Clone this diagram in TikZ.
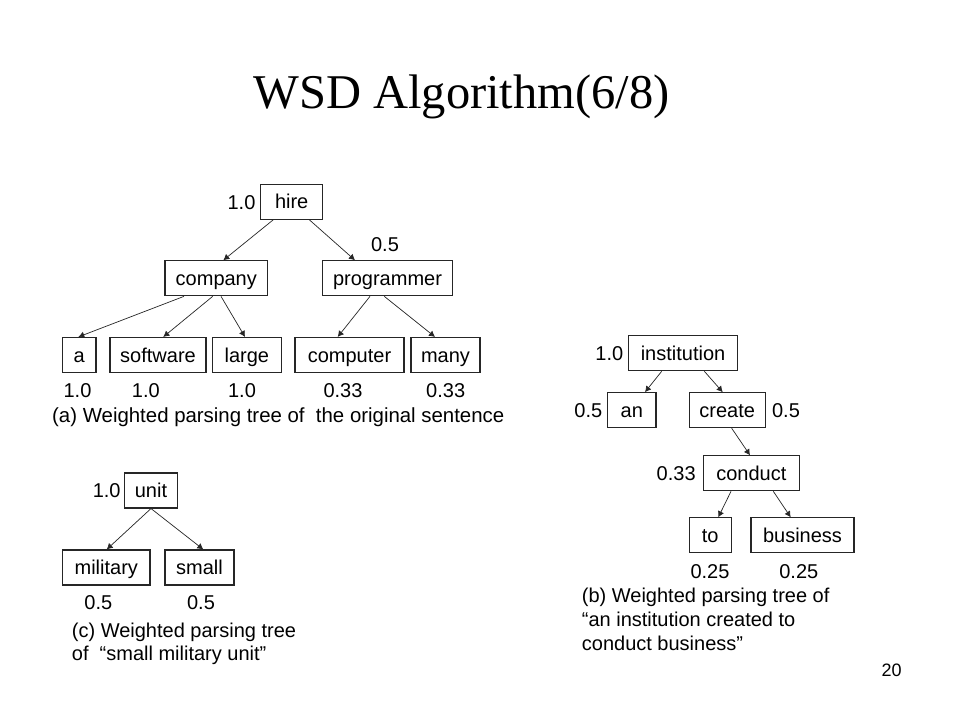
\documentclass[tikz,border=0pt]{standalone}
\usepackage{fontspec}
\setmainfont{Liberation Sans}
\newfontfamily\titlefont{Liberation Serif}
\usetikzlibrary{arrows.meta}
\begin{document}
\begin{tikzpicture}[x=1pt,y=-1pt,
  wbox/.style={draw=black!85, line width=1.1pt, inner sep=0pt, minimum height=35pt,
    text height=14.4pt, text depth=0pt, font=\fontsize{20}{24}\selectfont},
  wlab/.style={inner sep=0pt, text height=14.4pt, text depth=0pt, font=\fontsize{20}{24}\selectfont},
  captext/.style={inner sep=0pt, anchor=base west, align=left, font=\fontsize{20}{24}\selectfont},
  arr/.style={-{Latex[length=6pt,width=6.5pt]}, line width=0.7pt, black!85}]
\useasboundingbox (0,0) rectangle (960,720);
\fill[white] (0,0) rectangle (960,720);
% title
\node[inner sep=0pt, anchor=base, font=\titlefont\fontsize{48.5}{56}\selectfont] (title) at (461.5,108) {WSD Algorithm(6/8)};
% tree (a)
\node[wbox, minimum width=62pt] (hire) at (291.7,201.7) {hire};
\node[wbox, minimum width=102.7pt] (company) at (216.3,278.3) {company};
\node[wbox, minimum width=129.7pt] (programmer) at (387.5,278.3) {programmer};
\node[wbox, minimum width=33.3pt] (a) at (79.3,355) {a};
\node[wbox, minimum width=96pt] (software) at (158,355) {software};
\node[wbox, minimum width=69pt] (large) at (246.8,355) {large};
\node[wbox, minimum width=109pt] (computer) at (349.5,355) {computer};
\node[wbox, minimum width=69pt] (many) at (445.5,355) {many};
\node[wlab] (whire) at (241.5,202) {1.0};
\node[wlab] (wprog) at (385,244) {0.5};
\node[wlab] (wa) at (77.5,390) {1.0};
\node[wlab] (wsoft) at (145.8,390) {1.0};
\node[wlab] (wlarge) at (242,390) {1.0};
\node[wlab] (wcomp) at (343,390) {0.33};
\node[wlab] (wmany) at (445.7,390) {0.33};
\node[captext, font=\fontsize{20.4}{24}\selectfont] (capa) at (52,422) {(a) Weighted parsing tree of\ \ the original sentence};
\draw[arr] ([xshift=-18.4pt]hire.south) -- ([xshift=7pt]company.north);
\draw[arr] ([xshift=17.6pt]hire.south) -- ([xshift=-32.5pt]programmer.north);
\draw[arr] ([xshift=-32.3pt]company.south) -- ([xshift=-1pt]a.north);
\draw[arr] ([xshift=-3.6pt]company.south) -- ([xshift=5.3pt]software.north);
\draw[arr] ([xshift=4.7pt]company.south) -- ([xshift=-1.8pt]large.north);
\draw[arr] ([xshift=-17.5pt]programmer.south) -- ([xshift=-11.8pt]computer.north);
\draw[arr] ([xshift=-3.2pt]programmer.south) -- ([xshift=-10.5pt]many.north);
% tree (b)
\node[wbox, minimum width=109.3pt] (institution) at (683,353.2) {institution};
\node[wbox, minimum width=48.3pt] (an) at (631.8,410.2) {an};
\node[wbox, minimum width=75.7pt] (create) at (727.2,410.2) {create};
\node[wbox, minimum width=96pt] (conduct) at (751.3,473.3) {conduct};
\node[wbox, minimum width=41.7pt] (to) at (710.2,535.3) {to};
\node[wbox, minimum width=103pt] (business) at (802.5,535.3) {business};
\node[wlab] (winst) at (609.3,353.5) {1.0};
\node[wlab] (wan) at (588.3,410.5) {0.5};
\node[wlab] (wcreate) at (786,410.5) {0.5};
\node[wlab] (wcond) at (676.2,473.5) {0.33};
\node[wlab] (wto) at (710,571) {0.25};
\node[wlab] (wbus) at (798.8,571) {0.25};
\node[captext] (capb) at (581.7,650.5) {(b) Weighted parsing tree of\\“an institution created to\\conduct business”};
\draw[arr] ([xshift=-21.3pt]institution.south) -- ([xshift=13.2pt]an.north);
\draw[arr] ([xshift=21.3pt]institution.south) -- ([xshift=-4.5pt]create.north);
\draw[arr] ([xshift=4.5pt]create.south) -- ([xshift=-1.3pt]conduct.north);
\draw[arr] ([xshift=-20.3pt]conduct.south) -- ([xshift=8.1pt]to.north);
\draw[arr] ([xshift=22pt]conduct.south) -- ([xshift=-11.8pt]business.north);
% tree (c)
\node[wbox, minimum width=53.3pt] (unit) at (151,490.5) {unit};
\node[wbox, minimum width=87.3pt] (military) at (106.3,567.5) {military};
\node[wbox, minimum width=69pt] (small) at (199.5,567.5) {small};
\node[wlab] (wunit) at (106.7,490.5) {1.0};
\node[wlab] (wmil) at (98.3,602) {0.5};
\node[wlab] (wsmall) at (201,602) {0.5};
\node[captext, font=\fontsize{20}{23}\selectfont] (capc) at (71.7,660.5) {(c) Weighted parsing tree\\of\ \ “small military unit”};
\draw[arr] (unit.south) -- ([xshift=0.4pt]military.north);
\draw[arr] (unit.south) -- ([xshift=3.8pt]small.north);
% page number
\node[inner sep=0pt, text height=12.9pt, text depth=0pt, font=\fontsize{18}{20}\selectfont] (pnum) at (891.7,670.3) {20};
\end{tikzpicture}
\end{document}
